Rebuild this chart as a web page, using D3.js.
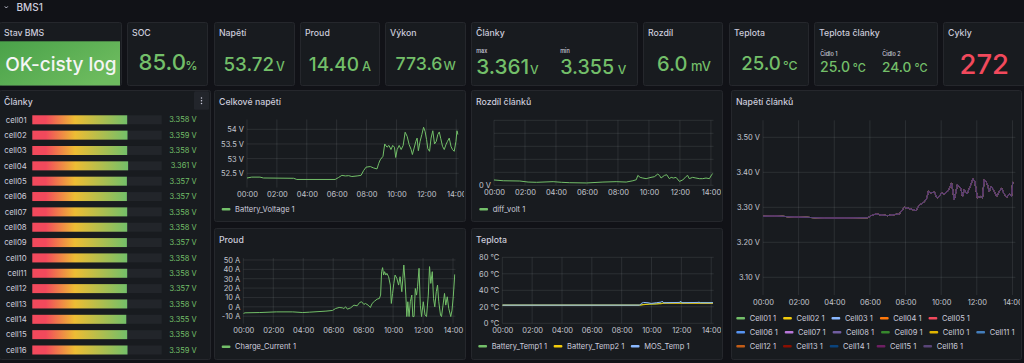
<!DOCTYPE html>
<html><head><meta charset="utf-8">
<script src="https://cdn.jsdelivr.net/npm/d3@7"></script>
<style>
html,body{margin:0;padding:0;background:#111217;overflow:hidden}
svg{display:block;font-family:Inter,"Noto Sans",sans-serif}
</style></head>
<body><svg id="c" width="1024" height="363"></svg>
<script>
// ---------------- DATA ----------------
const dashboardTitle = "BMS1";
const statTitles = ["Stav BMS","SOC","Napětí","Proud","Výkon","Články","Rozdíl","Teplota","Teplota články","Cykly"];
const bmsState = "OK-cisty log";
const socPercent = 85.0;
const packVoltage = 53.72;
const chargeCurrentNow = 14.40;
const powerNow = 773.6;
const cellExtremeLabels = ["max","min"];
const cellExtremes = [3.361, 3.355];
const cellDiffMv = 6.0;
const temperatureNow = 25.0;
const sensorLabels = ["Čidlo 1","Čidlo 2"];
const sensorTemps = [25.0, 24.0];
const cycleCount = 272;

const cellNames = ["cell01","cell02","cell03","cell04","cell05","cell06","cell07","cell08",
                   "cell09","cell10","cell11","cell12","cell13","cell14","cell15","cell16"];
const cellValues = [3.358,3.359,3.358,3.361,3.357,3.357,3.358,3.358,
                    3.357,3.358,3.358,3.357,3.358,3.355,3.358,3.359];

const timeTicks = ["00:00","02:00","04:00","06:00","08:00","10:00","12:00","14:00"];
const timeEnd = "14:10";

const batteryVoltage = [["00:00",52.34],["00:19",52.37],["00:52",52.37],["01:06",52.34],["03:07",52.33],["03:20",52.29],
 ["05:54",52.29],["06:08",52.36],["06:21",52.43],["06:35",52.41],["06:48",52.42],["07:01",52.39],["07:22",52.41],
 ["07:38",52.43],["07:48",52.59],["07:58",52.71],["08:15",52.73],["08:29",52.68],["08:42",52.65],["08:49",52.84],
 ["08:55",52.96],["09:06",53.08],["09:13",53.50],["09:22",53.39],["09:30",53.45],["09:38",53.31],["09:45",53.45],
 ["09:52",53.39],["09:57",53.04],["10:03",53.31],["10:11",53.45],["10:19",53.31],["10:27",53.45],["10:35",53.90],
 ["10:43",53.76],["10:51",53.48],["10:59",53.31],["11:04",53.14],["11:11",53.36],["11:18",53.59],["11:23",53.70],
 ["11:28",53.27],["11:35",53.59],["11:42",53.82],["11:49",54.07],["11:55",53.93],["12:01",53.65],["12:06",53.34],
 ["12:13",53.25],["12:19",53.70],["12:26",53.95],["12:33",53.50],["12:40",53.59],["12:46",53.82],["12:52",53.91],
 ["12:58",53.68],["13:05",53.42],["13:12",53.31],["13:19",53.48],["13:25",53.59],["13:32",53.70],["13:39",53.42],
 ["13:45",53.31],["13:52",53.25],["13:59",53.59],["14:03",53.95],["14:07",53.82]];

const diffVolt = [["00:00",0.0041],["00:36",0.0035],["01:40",0.0033],["02:12",0.0025],["02:45",0.0023],["03:49",0.0028],
 ["04:21",0.0023],["04:53",0.0020],["05:58",0.0018],["07:02",0.0025],["07:53",0.0028],["08:32",0.0025],["08:58",0.0035],
 ["09:11",0.0043],["09:17",0.0076],["09:26",0.0061],["09:36",0.0056],["09:49",0.0051],["10:08",0.0061],["10:21",0.0066],
 ["10:34",0.0086],["10:41",0.0076],["10:47",0.0056],["11:00",0.0076],["11:09",0.0081],["11:19",0.0051],["11:26",0.0061],
 ["11:35",0.0056],["11:45",0.0061],["11:58",0.0030],["12:11",0.0041],["12:24",0.0068],["12:30",0.0076],["12:36",0.0051],
 ["12:49",0.0061],["13:02",0.0056],["13:15",0.0051],["13:28",0.0051],["13:41",0.0056],["13:54",0.0051],["14:03",0.0081],
 ["14:07",0.0091]];

const chargeCurrent = [["00:00",-7.1],["00:07",-6.4],["01:06",-6.1],["02:12",-5.4],["03:18",-5.4],["03:58",-6.1],
 ["04:25",-5.7],["05:31",-4.6],["05:57",-3.9],["06:10",-1.8],["06:24",-0.7],["06:37",-1.1],["06:43",-1.8],["06:50",0.0],
 ["06:57",-2.5],["07:10",-1.1],["07:23",1.8],["07:36",1.1],["07:46",4.6],["07:54",5.4],["08:03",2.5],["08:09",3.6],
 ["08:20",1.8],["08:29",-0.7],["08:36",3.6],["08:46",6.1],["08:56",8.2],["09:05",8.9],["09:10",12.5],["09:14",37.5],
 ["09:18",41.8],["09:22",33.9],["09:26",37.5],["09:31",33.9],["09:35",35.7],["09:42",32.1],["09:49",23.2],["09:53",3.6],
 ["09:58",14.3],["10:03",25.0],["10:08",33.9],["10:15",30.4],["10:22",23.2],["10:28",32.1],["10:35",16.1],["10:39",30.4],
 ["10:43",44.6],["10:47",30.4],["10:51",12.5],["10:55",-10.4],["10:59",5.4],["11:04",-10.4],["11:09",5.4],["11:15",12.5],
 ["11:19",-10.4],["11:24",-10.4],["11:29",19.6],["11:34",12.5],["11:38",21.4],["11:44",41.1],["11:49",1.8],["11:54",-10.4],
 ["12:01",5.4],["12:08",-8.9],["12:14",-10.4],["12:21",12.5],["12:26",42.9],["12:31",25.0],["12:37",37.5],["12:42",8.9],
 ["12:47",0.0],["12:53",16.1],["12:58",23.2],["13:03",5.4],["13:10",-8.9],["13:14",-10.4],["13:20",1.8],["13:26",14.3],
 ["13:31",1.8],["13:37",10.7],["13:43",-1.8],["13:51",-10.4],["13:56",-3.6],["14:01",10.7],["14:07",34.6]];

const batteryTemp1 = [["00:00",22],["09:12",22],["09:30",23],["10:20",23.5],["10:45",24.5],["11:00",25],["14:07",25]];
const batteryTemp2 = [["00:00",22],["09:12",22],["09:53",23.3],["10:39",23.7],["10:46",24.3],["14:07",24.2]];
const mosTemp = [["00:00",22],["09:12",22],["09:19",24.1],["09:28",25.3],["09:46",24.9],["09:59",24.1],["10:19",24.9],
 ["10:39",25.7],["10:43",26.9],["10:49",24.9],["11:53",25.3],["11:57",26.9],["12:02",24.9],["13:07",25.3],["13:11",25.7],
 ["13:16",24.9],["14:07",24.9]];

// shared trend of the 16 cell voltages (they overlap in the picture)
const cellTrend = [["00:00",3.2743],["00:39",3.2752],["01:46",3.2724],["03:27",3.2695],["04:34",3.2695],["05:53",3.2705],
 ["06:04",3.2762],["06:21",3.2810],["06:38",3.2781],["07:00",3.2762],["07:22",3.2790],["07:39",3.2810],["07:56",3.3000],
 ["08:13",3.2962],["08:35",3.2905],["08:46",3.3057],["09:03",3.3152],["09:12",3.3267],["09:17",3.3457],["09:26",3.3410],
 ["09:37",3.3438],["09:46",3.3267],["09:54",3.3314],["10:01",3.3410],["10:10",3.3381],["10:22",3.3457],["10:31",3.3600],
 ["10:35",3.3695],["10:44",3.3219],["10:55",3.3648],["11:06",3.3552],["11:12",3.3314],["11:18",3.3505],["11:27",3.3381],
 ["11:38",3.3600],["11:47",3.3819],["11:53",3.3743],["12:02",3.3267],["12:11",3.3314],["12:19",3.3267],["12:25",3.3790],
 ["12:34",3.3695],["12:42",3.3457],["12:49",3.3600],["12:58",3.3457],["13:07",3.3314],["13:15",3.3438],["13:23",3.3552],
 ["13:32",3.3381],["13:41",3.3286],["13:49",3.3381],["13:57",3.3314],["14:01",3.3724]];
const cellLegendNames = ["Cell01 1","Cell02 1","Cell03 1","Cell04 1","Cell05 1","Cell06 1","Cell07 1","Cell08 1",
                         "Cell09 1","Cell10 1","Cell11 1","Cell12 1","Cell13 1","Cell14 1","Cell15 1","Cell16 1"];

// ---------------- STYLE ----------------
const C = {
  bg:"#111217", panel:"#181b1f", border:"#25272c", text:"#ccccdc", axis:"#c2c5ce",
  grid:"rgba(240,250,255,0.09)", green:"#73BF69", red:"#F2495C", track:"#22252a"
};
const cellColors = ["#73BF69","#F2CC0C","#8AB8FF","#FF780A","#F2495C","#5794F2","#B877D9","#705DA0",
                    "#37872D","#E0B400","#447EBC","#C15C17","#890F02","#0A437C","#6D1F62","#584477"];
const tempColors = ["#73BF69","#F2CC0C","#8AB8FF"];

const svg = d3.select("#c");
const defs = svg.append("defs");
let cid = 0;
const hrs = s => +s.slice(0,2) + (+s.slice(3))/60;

svg.append("rect").attr("width",1024).attr("height",363).attr("fill",C.bg);

// header
svg.append("path").attr("d","M4.8,6.4 L6.3,8.0 L7.8,6.4").attr("fill","none").attr("stroke",C.text).attr("stroke-width",0.9);
svg.append("text").attr("x",16.5).attr("y",10.8).attr("fill",C.text).attr("font-size",10).attr("font-weight",500).text(dashboardTitle);

function panel(x,y,w,h,title,titleDy){
  const id = "pc"+(cid++);
  defs.append("clipPath").attr("id",id).append("rect").attr("x",x).attr("y",y).attr("width",w-2).attr("height",h);
  svg.append("rect").attr("x",x+0.5).attr("y",y+0.5).attr("width",w-1).attr("height",h-1).attr("rx",2)
     .attr("fill",C.panel).attr("stroke",C.border).attr("stroke-width",1);
  const g = svg.append("g").attr("clip-path",`url(#${id})`);
  g.append("text").attr("class","ptitle").attr("x",x+5).attr("y",y+(titleDy||14)).attr("fill",C.text)
   .attr("font-size",8.75).attr("font-weight",500).text(title);
  return g;
}

// text fitted to a measured width (left aligned at x)
function fitText(g,x,y,str,width,color,weight){
  const t = g.append("text").attr("x",x).attr("y",y).attr("fill",color).attr("font-weight",weight||500)
    .attr("font-size",100).text(str);
  const w = t.node().getComputedTextLength();
  t.attr("font-size",100*width/w);
  return t;
}

// ---------------- STAT ROW ----------------
const statY = 22, statH = 64;
const statX = [-1,127,214,300,385,471,643,729,814,943];
const statW = [123,81,81,80,81,167,80,80,124,83];
const sp = statTitles.map((t,i)=>panel(statX[i],statY,statW[i],statH,t,14));

// Stav BMS background
const gr = defs.append("linearGradient").attr("id","bmsbg").attr("x1","0").attr("y1","0").attr("x2","1").attr("y2","0.6");
gr.append("stop").attr("offset","0%").attr("stop-color","#4aa24a");
gr.append("stop").attr("offset","100%").attr("stop-color","#6dbb5e");
sp[0].append("rect").attr("x",0).attr("y",41.3).attr("width",122).attr("height",44.2).attr("fill","url(#bmsbg)");
fitText(sp[0],5.2,70.7,bmsState,111.5,"#f4f5f5",500);

function statValue(g,str,x,w,unit,ux,uw,base,color){
  fitText(g,x,base,str,w,color,500);
  if(unit) fitText(g,ux,base,unit,uw,color,500);
}
statValue(sp[1],socPercent.toFixed(1),138.5,47.5,"%",185.3,12.3,70.2,C.green);
statValue(sp[2],packVoltage.toFixed(2),223.5,50.5,"V",276,8.8,70.6,C.green);
statValue(sp[3],chargeCurrentNow.toFixed(2),308.8,50.3,"A",362,9,70.9,C.green);
statValue(sp[4],powerNow.toFixed(1),395.5,47,"W",443.5,12.3,69.6,C.green);
statValue(sp[6],cellDiffMv.toFixed(1),657,30.5,"mV",691,20,70.7,C.green);
statValue(sp[7],temperatureNow.toFixed(1),741.2,39.6,"°C",783,14.5,70.2,C.green);
statValue(sp[9],String(cycleCount),959.5,49.5,null,0,0,74,C.red);

// Články (max/min)
const extX = [476.2,560.2], extW = [53,54], extUX = [530,617.7];
cellExtremes.forEach((v,i)=>{
  sp[5].append("text").attr("x",extX[i]).attr("y",53.3).attr("fill",C.text).attr("font-size",5.5).attr("font-weight",500).text(cellExtremeLabels[i]);
  statValue(sp[5],v.toFixed(3),extX[i],extW[i],"V",extUX[i],8.6,73.8,C.green);
});
// Teplota články
const senX = [820,882], senW = [30,29.4], senUX = [852.8,914.6];
sensorTemps.forEach((v,i)=>{
  sp[8].append("text").attr("x",senX[i]+0.3).attr("y",55.8).attr("fill",C.text).attr("font-size",5.5).attr("font-weight",500).text(sensorLabels[i]);
  statValue(sp[8],v.toFixed(1),senX[i],senW[i],"°C",senUX[i],13,71.8,C.green);
});

// ---------------- BAR GAUGE ----------------
const bp = panel(-1,90,212,270,"Články",14.5);
bp.append("rect").attr("x",194).attr("y",91.3).attr("width",15).attr("height",18.5).attr("rx",1.5).attr("fill","#22252b");
[98,100.7,103.4].forEach(cy=>bp.append("circle").attr("cx",201.5).attr("cy",cy).attr("r",0.75).attr("fill",C.text));
const bg = defs.append("linearGradient").attr("id","bargrad").attr("x1","0").attr("x2","1").attr("y1","0").attr("y2","0");
[[0,"#F2495C"],[0.14,"#F2495C"],[0.45,"#EDBD34"],[1,"#73BF69"]].forEach(s=>bg.append("stop").attr("offset",s[0]).attr("stop-color",s[1]));
const barX = d3.scaleLinear().domain([3.05,3.47]).range([32.3,161.7]);
const rowY = d3.scaleLinear().domain([0,15]).range([119.8,350]);
const rows = bp.selectAll("g.row").data(cellNames).join("g").attr("class","row");
rows.append("rect").attr("x",barX(3.05)).attr("y",(d,i)=>rowY(i)-4.5).attr("width",barX(3.47)-barX(3.05)).attr("height",9).attr("fill",C.track);
rows.append("rect").attr("x",barX(3.05)).attr("y",(d,i)=>rowY(i)-4.5).attr("width",(d,i)=>barX(cellValues[i])-barX(3.05)).attr("height",9)
    .attr("fill","url(#bargrad)");
rows.append("text").attr("x",26.7).attr("y",(d,i)=>rowY(i)).attr("dy","0.35em").attr("text-anchor","end")
    .attr("fill",C.text).attr("font-size",7.8).text(d=>d);
rows.append("text").attr("x",196.7).attr("y",(d,i)=>rowY(i)).attr("dy","0.35em").attr("text-anchor","end")
    .attr("fill",C.green).attr("font-size",7.5).text((d,i)=>cellValues[i].toFixed(3)+" V");

// ---------------- TIME SERIES ----------------
function timeSeries(g,o){
  const x = d3.scaleLinear().domain([0,hrs(timeEnd)]).range([o.L,o.R]);
  const y = d3.scaleLinear().domain(o.yDomain).range([o.B,o.T]);
  const tv = timeTicks.map(hrs);
  g.append("g").selectAll("line").data(tv).join("line")
   .attr("x1",d=>x(d)).attr("x2",d=>x(d)).attr("y1",o.T).attr("y2",o.B).attr("stroke",C.grid).attr("stroke-width",1);
  g.append("g").selectAll("line").data(o.yTicks).join("line")
   .attr("x1",o.L).attr("x2",o.R).attr("y1",d=>y(d)).attr("y2",d=>y(d)).attr("stroke",C.grid).attr("stroke-width",1);
  const ax = g.append("g").attr("transform",`translate(0,${o.B})`)
   .call(d3.axisBottom(x).tickValues(tv).tickFormat((d,i)=>timeTicks[i]).tickSize(0).tickPadding(4.2));
  const ay = g.append("g").attr("transform",`translate(${o.L},0)`)
   .call(d3.axisLeft(y).tickValues(o.yTicks).tickFormat(o.yFmt).tickSize(0).tickPadding(3));
  [ax,ay].forEach(a=>{a.select(".domain").remove();
    a.selectAll("text").attr("fill",C.axis).attr("font-size",7.5).attr("font-family","Inter,'Noto Sans',sans-serif");});
  const id = "plc"+(cid++);
  defs.append("clipPath").attr("id",id).append("rect").attr("x",o.L).attr("y",o.T-2).attr("width",o.R-o.L).attr("height",o.B-o.T+4);
  const pg = g.append("g").attr("clip-path",`url(#${id})`);
  const line = d3.line().x(d=>x(hrs(d[0]))).y(d=>y(d[1]));
  o.series.forEach(s=>{
    pg.append("path").attr("d",line(s.data)).attr("fill","none").attr("stroke",s.color).attr("stroke-width",1)
      .attr("stroke-linejoin","round");
  });
  // legend (flow layout)
  let lx = o.legendX, ly = o.legendY;
  o.legend.forEach(it=>{
    const gg = g.append("g");
    const tx = gg.append("text").attr("x",0).attr("y",0).attr("dy","0.35em").attr("fill",C.text).attr("font-size",7.5).text(it.name);
    const tw = tx.node().getComputedTextLength();
    const iw = 13.4 + tw + o.legendGap;
    if(lx + 13.4 + tw > o.legendMax){ lx = o.legendX; ly += o.legendRow; }
    gg.append("rect").attr("x",0).attr("y",-1.25).attr("width",8.75).attr("height",2.5).attr("rx",1).attr("fill",it.color);
    tx.attr("x",13.4);
    gg.attr("transform",`translate(${lx},${ly})`);
    lx += iw;
  });
}

const p1 = panel(214,90,252,132,"Celkové napětí",14.5);
timeSeries(p1,{L:247,R:458.7,T:119.5,B:187.5,yDomain:[52.016,54.334],yTicks:[52.5,53,53.5,54],
  yFmt:d=>`${+d.toFixed(1)} V`,series:[{data:batteryVoltage,color:C.green}],
  legend:[{name:"Battery_Voltage 1",color:C.green}],legendX:221.7,legendY:209.3,legendGap:8,legendMax:460,legendRow:14});

const p2 = panel(471,90,252,132,"Rozdíl článků",14.5);
timeSeries(p2,{L:494,R:713.5,T:120.3,B:185.3,yDomain:[0,0.05],yTicks:[0,0.01,0.02,0.03,0.04,0.05],
  yFmt:d=>d===0?"0 V":"",series:[{data:diffVolt,color:C.green}],
  legend:[{name:"diff_volt 1",color:C.green}],legendX:479.3,legendY:209.3,legendGap:8,legendMax:718,legendRow:14});

const p3 = panel(214,228,252,132,"Proud",14.5);
timeSeries(p3,{L:243.3,R:455.5,T:258,B:323.5,yDomain:[-17.8,52.1],yTicks:[-10,0,10,20,30,40,50],
  yFmt:d=>`${d} A`,series:[{data:chargeCurrent,color:C.green}],
  legend:[{name:"Charge_Current 1",color:C.green}],legendX:221.7,legendY:346.7,legendGap:8,legendMax:460,legendRow:14});

const p4 = panel(471,228,252,132,"Teplota",14.5);
timeSeries(p4,{L:502.3,R:713.7,T:257.3,B:323.3,yDomain:[0,80],yTicks:[0,20,40,60,80],
  yFmt:d=>`${d} °C`,series:[{data:batteryTemp1,color:tempColors[0]},{data:batteryTemp2,color:tempColors[1]},{data:mosTemp,color:tempColors[2]}],
  legend:[{name:"Battery_Temp1 1",color:tempColors[0]},{name:"Battery_Temp2 1",color:tempColors[1]},{name:"MOS_Temp 1",color:tempColors[2]}],
  legendX:478.3,legendY:346.3,legendGap:6.5,legendMax:718,legendRow:14});

const p5 = panel(731,90,291,270,"Napětí článků",14.5);
timeSeries(p5,{L:763,R:1015.4,T:120.3,B:295,yDomain:[3.0494,3.5486],yTicks:[3.1,3.2,3.3,3.4,3.5],
  yFmt:d=>`${d.toFixed(2)} V`,
  series:cellLegendNames.map((n,i)=>({data:cellTrend,color:cellColors[i]})),
  legend:cellLegendNames.map((n,i)=>({name:n,color:cellColors[i]})),
  legendX:736.3,legendY:318.3,legendGap:7,legendMax:1016,legendRow:14});
</script>
</body></html>
